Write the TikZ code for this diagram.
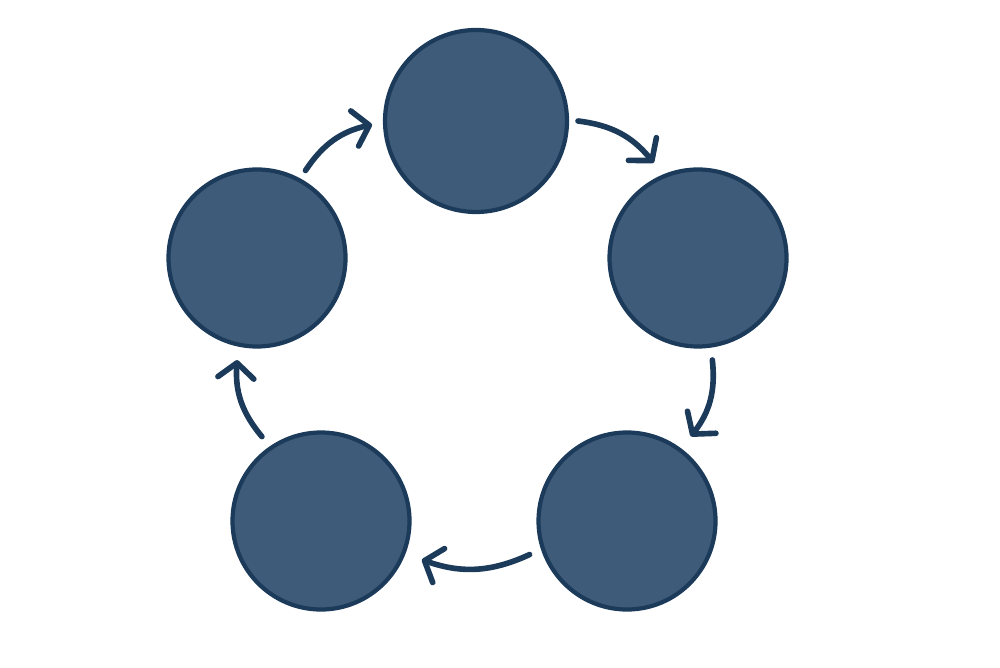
\documentclass[tikz,border=0pt]{standalone}
\usetikzlibrary{arrows.meta,calc}
\definecolor{stepfill}{HTML}{3E5C7A}
\definecolor{stepline}{HTML}{1C3A5A}

\begin{document}
\begin{tikzpicture}[
    stage/.style={circle,draw=stepline,fill=stepfill,line width=1.2pt,inner sep=0pt,minimum size=1.77cm},
    flow/.style={draw=stepline,line width=1.6pt,line cap=round,
      -{Straight Barb[length=1.5mm,width=3.6mm,round]}}]
   \useasboundingbox (0,0) rectangle (10,6.67);
   \node[stage,minimum size=1.82cm] (s_1) at (4.76,5.46) {};
   \node[stage] (s_2) at (6.98,4.09) {};
   \node[stage] (s_3) at (6.27,1.46) {};
   \node[stage] (s_4) at (3.21,1.46) {};
   \node[stage] (s_5) at (2.57,4.09) {};
   % arrow ends, just off the circles
   \coordinate (o_1) at ($(s_5)+(61:1.0)$);
   \coordinate (i_1) at ($(s_1)+(182:1.04)$);
   \coordinate (o_2) at ($(s_1)+(0:1.02)$);
   \coordinate (i_2) at ($(s_2)+(115:1.05)$);
   \coordinate (o_3) at ($(s_2)+(-82:1.03)$);
   \coordinate (i_3) at ($(s_3)+(53:1.06)$);
   \coordinate (o_4) at ($(s_3)+(199:1.03)$);
   \coordinate (i_4) at ($(s_4)+(-21:1.08)$);
   \coordinate (o_5) at ($(s_4)+(125:1.03)$);
   \coordinate (i_5) at ($(s_5)+(259:1.04)$);
   \foreach \k in {1,...,5}
      \draw[flow] (o_\k) to [bend left=22] (i_\k);
\end{tikzpicture}
\end{document}
